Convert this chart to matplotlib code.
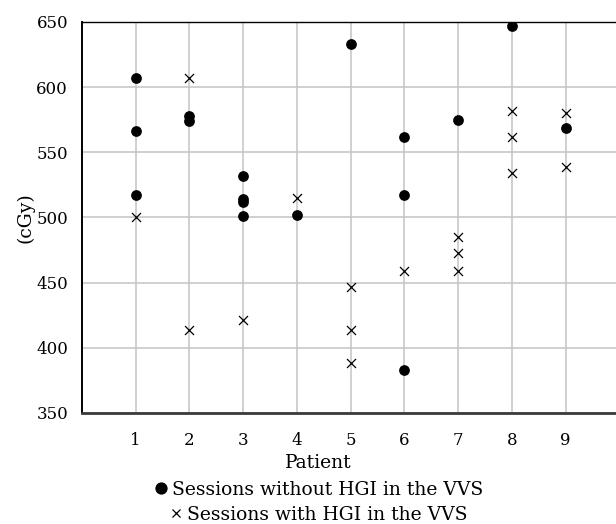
import matplotlib
matplotlib.use('Agg')
import matplotlib.pyplot as plt
from matplotlib.lines import Line2D

plt.rcParams['font.family'] = ['DejaVu Serif']

# sessions without HGI in the VVS (filled dots)
no_hgi_patient = [1, 1, 1, 2, 2, 3, 3, 3, 3, 4, 5, 6, 6, 6, 7, 8, 9]
no_hgi_dose = [607, 566, 517, 578, 574, 532, 514, 512, 501, 502, 633, 562, 517, 383, 575, 647, 569]

# sessions with HGI in the VVS (crosses)
hgi_patient = [1, 2, 2, 3, 4, 5, 5, 5, 6, 7, 7, 7, 8, 8, 8, 9, 9]
hgi_dose = [500, 607, 414, 421, 515, 447, 414, 388, 459, 485, 473, 459, 582, 562, 534, 580, 539]

patients = [1, 2, 3, 4, 5, 6, 7, 8, 9]
yticks = [350, 400, 450, 500, 550, 600, 650]

fig = plt.figure(figsize=(6.16, 5.24), dpi=100)
ax = fig.add_axes([82/616, 1 - 413/524, 1 - 82/616, (413 - 22)/524])

ax.scatter(no_hgi_patient, no_hgi_dose, s=60, c='black', marker='o', zorder=3, linewidths=0)
ax.scatter(hgi_patient, hgi_dose, s=42, c='black', marker='x', zorder=3, linewidths=0.9)

ax.set_xlim(0, 9.94)
ax.set_ylim(350, 650)
ax.set_xticks(patients)
ax.set_yticks(yticks)
ax.tick_params(length=0, labelsize=12, pad=10)
ax.tick_params(axis='x', pad=14)
ax.grid(True, color='#c4c4c4', linewidth=1.1)
ax.set_axisbelow(True)

ax.spines['right'].set_visible(False)
ax.spines['left'].set_linewidth(1.4)
ax.spines['top'].set_linewidth(1.0)
ax.spines['bottom'].set_linewidth(2.0)
ax.spines['bottom'].set_color('#3a3a3a')

ax.set_ylabel('(cGy)', fontsize=13.5)
ax.yaxis.set_label_coords((35 - 82) / (616 - 82), 0.5)
ax.set_xlabel('Patient', fontsize=13.5)
ax.xaxis.set_label_coords((318 - 82) / (616 - 82), -(454 - 413) / (413 - 22))

h1 = Line2D([], [], marker='o', color='black', linestyle='none', markersize=7.8)
h2 = Line2D([], [], marker='x', color='black', linestyle='none', markersize=6, markeredgewidth=0.9)
kw = dict(frameon=False, fontsize=13.5, handlelength=0.6, handletextpad=0.3,
          borderpad=0, borderaxespad=0, loc='center')
leg1 = fig.legend([h1], ['Sessions without HGI in the VVS'],
                  bbox_to_anchor=(319/616, 1 - 490/524), **kw)
leg2 = fig.legend([h2], ['Sessions with HGI in the VVS'],
                  bbox_to_anchor=(319/616, 1 - 515/524), **kw)

fig.savefig('out.png', dpi=100)
